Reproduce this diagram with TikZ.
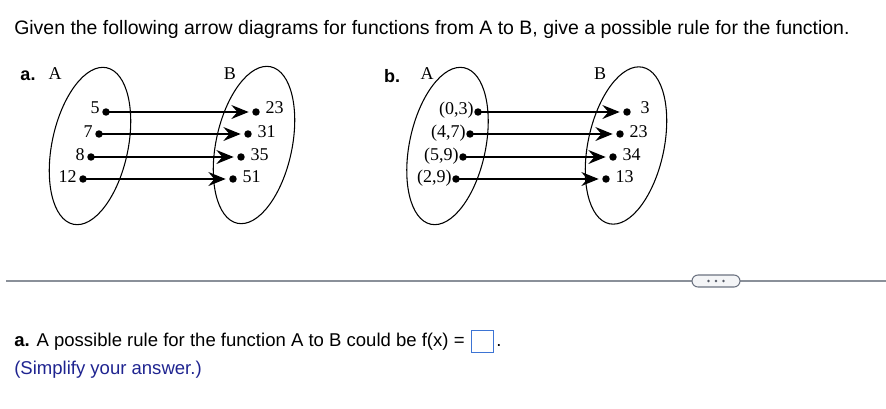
\documentclass[tikz,border=0pt]{standalone}
\usepackage{fontspec}
\setmainfont{Liberation Serif}
\newfontfamily\sansf{Liberation Sans}
\usetikzlibrary{arrows.meta,shapes.misc}
\definecolor{rulegray}{HTML}{8A9099}
\definecolor{btnedge}{HTML}{6B7280}
\definecolor{btnfill}{HTML}{F4F5F7}
\definecolor{navy}{HTML}{1F2490}
\definecolor{boxblue}{HTML}{3D74D4}
\tikzset{
  dot/.style={circle,fill=black,inner sep=0pt,minimum size=5.6pt},
  lbl/.style={font=\fontsize{13.5}{14}\selectfont,inner sep=0pt},
  setlbl/.style={font=\fontsize{13.5}{14}\selectfont,inner sep=0pt},
  part/.style={font=\sansf\bfseries\fontsize{13.5}{14}\selectfont,inner sep=0pt},
  maparrow/.style={line width=0.9pt,-{Stealth[length=13pt,width=10.5pt,inset=4.5pt]},shorten >=2.5pt},
  setedge/.style={line width=0.8pt},
  sanstext/.style={font=\sansf\fontsize{14.6}{16}\selectfont,inner sep=0pt,anchor=west},
  anstext/.style={font=\sansf\fontsize{13.9}{16}\selectfont,inner sep=0pt,anchor=west},
}
\begin{document}
\begin{tikzpicture}[x=0.75pt,y=-0.75pt]
\useasboundingbox (0,0) rectangle (886,408);

% title
\node[sanstext] (title) at (14,29) {Given the following arrow diagrams for functions from A to B, give a possible rule for the function.};

% ---------- part a ----------
\node[part] (pa) at (28,76) {a.};
\node[setlbl] (aA) at (55,74) {A};
\node[setlbl] (aB) at (230,74) {B};
\draw[setedge,rotate around={-12:(90,146)}] (90,146) ellipse (38 and 80);
\draw[setedge,rotate around={-12:(254,145)}] (254,145) ellipse (38 and 80);

\node[dot,label={[lbl,yshift=3pt,xshift=-1.5pt]left:5}] (a1) at (106,112) {};
\node[dot,label={[lbl,yshift=2pt,xshift=-1.5pt]left:7}] (a2) at (99,134) {};
\node[dot,label={[lbl,yshift=2pt,xshift=-1.5pt]left:8}] (a3) at (91,157) {};
\node[dot,label={[lbl,yshift=2pt,xshift=-1.5pt]left:12}] (a4) at (83,179) {};

\node[dot,label={[lbl,yshift=3pt,xshift=4pt]right:23}] (b1) at (256,112) {};
\node[dot,label={[lbl,yshift=2pt,xshift=4pt]right:31}] (b2) at (248,134) {};
\node[dot,label={[lbl,yshift=2pt,xshift=4pt]right:35}] (b3) at (241,157) {};
\node[dot,label={[lbl,yshift=2pt,xshift=4pt]right:51}] (b4) at (233,179) {};

\draw[maparrow] (a1.center) -- (b1);
\draw[maparrow] (a2.center) -- (b2);
\draw[maparrow] (a3.center) -- (b3);
\draw[maparrow] (a4.center) -- (b4);

% ---------- part b ----------
\node[part] (pb) at (392,76) {b.};
\node[setlbl] (bA) at (427,74) {A};
\node[setlbl] (bB) at (600,74) {B};
\draw[setedge,rotate around={-12:(447.5,146)}] (447.5,146) ellipse (38 and 80);
\draw[setedge,rotate around={-12:(626,145.5)}] (626,145.5) ellipse (38 and 80);

\node[dot,label={[lbl,yshift=1pt]left:(0,3)}] (c1) at (478,112) {};
\node[dot,label={[lbl,yshift=1pt]left:(4,7)}] (c2) at (470,134) {};
\node[dot,label={[lbl,yshift=1pt]left:(5,9)}] (c3) at (463,157) {};
\node[dot,label={[lbl,yshift=1pt]left:(2,9)}] (c4) at (456,179) {};

\node[dot,label={[lbl,yshift=3pt,xshift=7pt]right:3}] (d1) at (627,112) {};
\node[dot,label={[lbl,yshift=2pt,xshift=4pt]right:23}] (d2) at (620,134) {};
\node[dot,label={[lbl,yshift=2pt,xshift=4pt]right:34}] (d3) at (613,157) {};
\node[dot,label={[lbl,yshift=2pt,xshift=4pt]right:13}] (d4) at (606,179) {};

\draw[maparrow] (c1.center) -- (d1);
\draw[maparrow] (c2.center) -- (d2);
\draw[maparrow] (c3.center) -- (d3);
\draw[maparrow] (c4.center) -- (d4);

% ---------- separator ----------
\coordinate (rl) at (6,281);
\coordinate (rr) at (886,281);
\draw[rulegray,line width=0.9pt] (rl) -- (rr);
\node[draw=btnedge,fill=btnfill,line width=0.8pt,rounded rectangle,minimum width=36pt,minimum height=9pt,inner sep=0pt] (btn) at (716,281) {};
\fill[btnedge!80!black] (708.5,281) circle (0.95pt) (716,281) circle (0.95pt) (723.5,281) circle (0.95pt);

% ---------- answer line ----------
\node[anstext] (q) at (14,342) {\textbf{a.} A possible rule for the function A to B could be f(x) =};
\node[draw=boxblue,line width=0.7pt,minimum width=16.5pt,minimum height=17pt,inner sep=0pt] (ans) at (482,341.5) {};
\node[anstext,anchor=base west] (per) at ([xshift=2pt]ans.east |- q.base) {.};
\node[anstext,text=navy] (simp) at (14,370) {(Simplify your answer.)};
\end{tikzpicture}
\end{document}
